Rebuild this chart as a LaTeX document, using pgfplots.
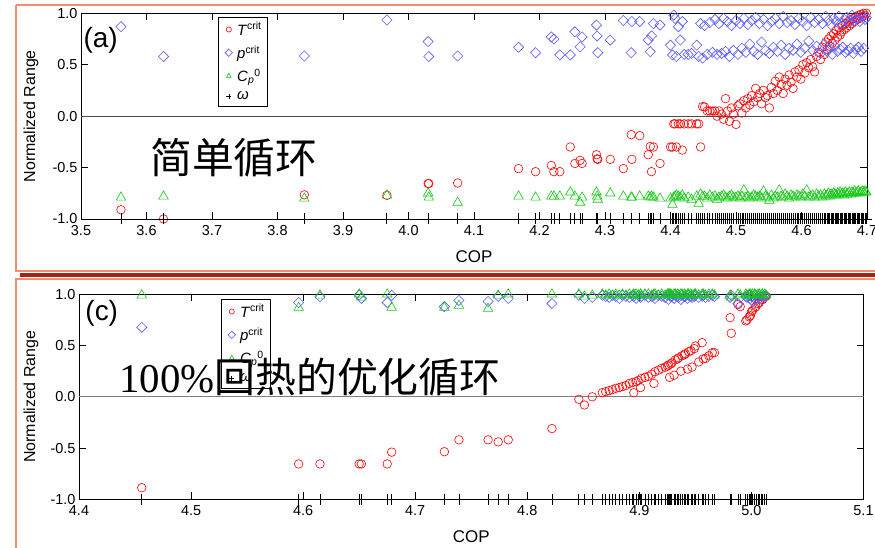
\documentclass[border=0pt]{standalone}
\usepackage{fontspec}
\setmainfont{Liberation Sans}
\newfontfamily\cjk{Noto Sans CJK SC}
\newfontfamily\tnr{Liberation Serif}
\usepackage{pgfplots}
\pgfplotsset{compat=1.18}
\usepackage{pgfplotstable}
\definecolor{tred}{RGB}{255,0,0}
\definecolor{pblue}{RGB}{90,90,255}
\definecolor{cgreen}{RGB}{20,200,20}
\definecolor{salmon}{RGB}{243,140,115}
\definecolor{darkred}{RGB}{160,38,18}

\pgfplotstableread{
x T p C w
3.561 -0.91 0.87 -0.79 -1
3.626 -1.00 0.58 -0.78 -1
3.841 -0.765 0.585 -0.80 -1
3.967 -0.77 0.935 -0.77 -1
4.030 -0.655 0.725 -0.75 -1
4.031 -0.655 0.58 -0.79 -1
4.075 -0.65 0.585 -0.84 -1
4.168 -0.51 0.67 -0.78 -1
4.194 -0.54 0.617 -0.79 -1
4.218 -0.48 0.77 -0.78 -1
4.222 -0.54 0.75 -0.78 -1
4.231 -0.54 0.595 -0.78 -1
4.247 -0.30 0.595 -0.74 -1
4.254 -0.46 0.82 -0.78 -1
4.262 -0.43 0.675 -0.84 -1
4.265 -0.46 0.77 -0.79 -1
4.287 -0.375 0.886 -0.74 -1
4.288 -0.415 0.78 -0.78 -1
4.289 -0.42 0.617 -0.81 -1
4.308 -0.42 0.74 -0.75 -1
4.328 -0.51 0.93 -0.78 -1
4.340 -0.18 0.617 -0.79 -1
4.341 -0.42 0.92 -0.79 -1
4.353 -0.19 0.92 -0.78 -1
4.366 -0.375 0.74 -0.78 -1
4.369 -0.295 0.627 -0.79 -1
4.371 -0.54 0.78 -0.78 -1
4.374 -0.30 0.90 -0.79 -1
4.384 -0.46 0.886 -0.80 -1
4.400 -0.30 0.69 -0.80 -1
4.403 -0.30 0.595 -0.86 -1
4.405 -0.075 0.983 -0.79 -1
4.407 -0.075 0.95 -0.78 -1
4.409 -0.30 0.58 -0.77 -1
4.412 -0.075 0.87 -0.78 -1
4.415 -0.075 0.74 -0.79 -1
4.418 -0.33 0.92 -0.77 -1
4.421 -0.075 0.60 -0.80 -1
4.427 -0.075 0.60 -0.79 -1
4.432 -0.075 0.61 -0.81 -1
4.440 -0.075 0.69 -0.78 -1
4.443 -0.075 0.58 -0.85 -1
4.446 -0.30 0.90 -0.76 -1
4.449 0.093 0.565 -0.78 -1
4.452 0.09 0.88 -0.78 -1
4.456 0.05 0.60 -0.80 -1
4.460 0.05 0.91 -0.77 -1
4.464 0.05 0.62 -0.79 -1
4.468 0.05 0.94 -0.78 -1
4.471 0.00 0.60 -0.81 -1
4.474 0.05 0.90 -0.79 -1
4.478 0.02 0.61 -0.78 -1
4.481 -0.03 0.95 -0.77 -1
4.484 0.17 0.63 -0.79 -1
4.487 0.05 0.92 -0.80 -1
4.490 -0.05 0.58 -0.78 -1
4.493 0.08 0.88 -0.77 -1
4.496 0.02 0.64 -0.79 -1
4.500 -0.08 0.93 -0.79 -1
4.503 0.10 0.60 -0.78 -1
4.506 0.12 0.90 -0.80 -1
4.509 0.03 0.66 -0.78 -1
4.512 0.15 0.95 -0.72 -1
4.515 0.08 0.62 -0.79 -1
4.518 0.17 0.89 -0.78 -1
4.521 0.11 0.70 -0.80 -1
4.524 0.20 0.93 -0.79 -1
4.527 0.14 0.63 -0.77 -1
4.530 0.27 0.96 -0.78 -1
4.533 0.18 0.60 -0.79 -1
4.536 0.22 0.90 -0.78 -1
4.539 0.12 0.72 -0.80 -1
4.542 0.25 0.94 -0.73 -1
4.545 0.18 0.64 -0.78 -1
4.548 0.20 0.88 -0.79 -1
4.551 0.08 0.61 -0.82 -1
4.554 0.28 0.92 -0.77 -1
4.557 0.22 0.67 -0.80 -1
4.560 0.34 0.95 -0.78 -1
4.563 0.25 0.63 -0.79 -1
4.566 0.38 0.90 -0.72 -1
4.569 0.31 0.69 -0.78 -1
4.572 0.22 0.97 -0.79 -1
4.575 0.36 0.60 -0.76 -1
4.578 0.30 0.91 -0.78 -1
4.581 0.40 0.66 -0.80 -1
4.584 0.33 0.93 -0.77 -1
4.587 0.27 0.64 -0.78 -1
4.590 0.43 0.89 -0.79 -1
4.593 0.38 0.70 -0.77 -1
4.596 0.45 0.95 -0.78 -1
4.599 0.36 0.62 -0.79 -1
4.602 0.50 0.92 -0.76 -1
4.605 0.42 0.66 -0.78 -1
4.608 0.52 0.88 -0.72 -1
4.611 0.47 0.73 -0.79 -1
4.614 0.55 0.96 -0.78 -1
4.617 0.48 0.64 -0.77 -1
4.620 0.43 0.91 -0.79 -1
4.623 0.58 0.68 -0.76 -1
4.626 0.62 0.94 -0.78 -1
4.629 0.55 0.61 -0.77 -1
4.632 0.67 0.90 -0.79 -1
4.635 0.60 0.70 -0.76 -1
4.637 0.72 0.97 -0.78 -1
4.639 0.65 0.63 -0.77 -1
4.641 0.75 0.93 -0.75 -1
4.643 0.68 0.66 -0.78 -1
4.645 0.78 0.89 -0.76 -1
4.647 0.71 0.60 -0.77 -1
4.649 0.80 0.95 -0.75 -1
4.651 0.74 0.68 -0.76 -1
4.653 0.83 0.92 -0.77 -1
4.655 0.77 0.63 -0.75 -1
4.657 0.86 0.97 -0.76 -1
4.659 0.79 0.65 -0.74 -1
4.661 0.82 0.90 -0.76 -1
4.663 0.88 0.67 -0.75 -1
4.665 0.84 0.94 -0.77 -1
4.667 0.90 0.62 -0.74 -1
4.669 0.86 0.96 -0.76 -1
4.671 0.92 0.64 -0.75 -1
4.673 0.88 0.91 -0.74 -1
4.675 0.94 0.66 -0.76 -1
4.677 0.90 0.98 -0.74 -1
4.679 0.95 0.61 -0.75 -1
4.681 0.92 0.93 -0.73 -1
4.683 0.97 0.65 -0.75 -1
4.685 0.94 0.95 -0.74 -1
4.687 0.98 0.67 -0.73 -1
4.689 0.95 0.92 -0.75 -1
4.691 0.99 0.63 -0.74 -1
4.693 0.97 0.97 -0.73 -1
4.695 1.00 0.66 -0.74 -1
4.697 0.98 0.94 -0.73 -1
4.699 1.00 0.96 -0.74 -1
}\dataA

\pgfplotstableread{
x T p C w
4.456 -0.887 0.678 0.99 -1
4.596 -0.655 0.92 0.87 -1
4.615 -0.655 0.977 0.99 -1
4.650 -0.655 0.993 1.00 -1
4.652 -0.655 0.96 0.97 -1
4.675 -0.655 0.92 1.00 -1
4.679 -0.54 0.99 0.87 -1
4.726 -0.536 0.88 0.87 -1
4.739 -0.42 0.94 0.89 -1
4.765 -0.42 0.93 0.86 -1
4.774 -0.44 0.98 0.99 -1
4.783 -0.42 0.96 1.00 -1
4.822 -0.31 0.91 1.00 -1
4.846 -0.024 0.99 1.00 -1
4.851 -0.08 0.96 0.98 -1
4.858 0.00 0.97 0.99 -1
4.867 0.04 0.99 1.00 -1
4.870 0.05 0.98 0.99 -1
4.873 0.06 0.97 1.00 -1
4.876 0.07 0.99 0.99 -1
4.879 0.083 0.98 1.00 -1
4.882 0.09 0.96 0.99 -1
4.885 0.10 0.99 1.00 -1
4.888 0.11 0.98 0.99 -1
4.891 0.13 0.97 1.00 -1
4.894 0.14 0.99 0.99 -1
4.895 0.04 0.98 1.00 -1
4.897 0.147 0.96 1.00 -1
4.899 0.16 0.99 0.99 -1
4.901 0.09 0.97 1.00 -1
4.902 0.18 0.98 0.99 -1
4.905 0.19 0.99 1.00 -1
4.908 0.20 0.97 1.00 -1
4.911 0.22 0.98 0.99 -1
4.913 0.13 0.99 1.00 -1
4.914 0.245 0.96 1.00 -1
4.917 0.26 0.99 0.99 -1
4.920 0.278 0.98 1.00 -1
4.923 0.29 0.97 0.99 -1
4.925 0.30 0.99 1.00 -1
4.926 0.31 0.95 1.00 -1
4.927 0.19 0.99 1.00 -1
4.928 0.32 0.98 1.00 -1
4.929 0.33 0.98 0.99 -1
4.931 0.21 0.96 1.00 -1
4.932 0.36 0.99 1.00 -1
4.934 0.37 0.98 1.00 -1
4.935 0.38 0.97 0.99 -1
4.937 0.25 0.95 1.00 -1
4.938 0.40 0.99 1.00 -1
4.940 0.41 0.98 1.00 -1
4.941 0.42 0.98 0.99 -1
4.943 0.27 0.96 1.00 -1
4.944 0.44 0.99 1.00 -1
4.946 0.45 0.98 1.00 -1
4.947 0.29 0.97 0.99 -1
4.949 0.47 0.98 1.00 -1
4.950 0.496 0.99 1.00 -1
4.953 0.34 0.97 0.99 -1
4.956 0.528 0.98 1.00 -1
4.957 0.37 0.99 1.00 -1
4.959 0.375 0.97 0.99 -1
4.962 0.40 0.98 1.00 -1
4.965 0.43 0.99 1.00 -1
4.967 0.43 0.98 0.99 -1
4.981 0.772 0.97 0.99 -1
4.982 0.62 0.99 0.97 -1
4.988 0.90 0.91 1.00 -1
4.990 0.88 0.97 0.99 -1
4.995 0.74 0.98 1.00 -1
4.996 0.75 0.97 0.99 -1
4.998 0.78 0.99 1.00 -1
4.999 0.79 0.96 1.00 -1
5.000 0.83 0.98 0.99 -1
5.001 0.84 0.93 1.00 -1
5.003 0.87 0.99 1.00 -1
5.004 0.88 0.95 0.99 -1
5.006 0.91 0.98 1.00 -1
5.007 0.92 0.96 1.00 -1
5.009 0.945 0.99 0.99 -1
5.010 0.95 0.97 1.00 -1
5.012 0.977 0.98 1.00 -1
5.013 0.98 0.99 0.99 -1
}\dataC

\pgfplotsset{
  panel/.style={
    scale only axis, anchor=south west,
    ymin=-1, ymax=1, ytick={-1,-0.5,0,0.5,1},
    tick align=inside, major tick length=7bp,
    axis line style={line width=0.8bp},
    every tick/.style={black, line width=0.8bp},
    /pgf/number format/fixed, /pgf/number format/fixed zerofill,
    /pgf/number format/precision=1, /pgf/number format/assume math mode=true,
    tick label style={font=\fontsize{14.5}{16}\selectfont},
    xticklabel style={yshift=-3bp},
    ylabel={Normalized Range},
    ylabel style={font=\fontsize{16}{18}\selectfont, anchor=center},
    xlabel={COP},
    xlabel style={font=\fontsize{17}{20}\selectfont, anchor=center},
    clip mode=individual,
    legend style={draw=black, line width=0.8bp, fill=white,
      font=\fontsize{15}{17}\selectfont, anchor=north west,
      inner xsep=4bp, inner ysep=3bp, row sep=5bp, cells={anchor=west}},
    legend image code/.code={\path (0bp,0bp) (12bp,0bp);
      \draw[##1, mark size=2.6bp, line width=0.6bp] plot coordinates {(6bp,0bp)};},
  },
  Ts/.style={only marks, mark=o, draw=tred, mark size=4.3bp, line width=0.6bp},
  ps/.style={only marks, mark=square, mark options={rotate=45}, draw=pblue, mark size=3.6bp, line width=0.6bp},
  Cs/.style={only marks, mark=triangle, draw=cgreen, mark size=5.5bp, line width=0.6bp},
  ws/.style={only marks, mark=+, draw=black, mark size=5.5bp, line width=0.8bp},
}

\begin{document}
\begin{tikzpicture}
\useasboundingbox (0,0) rectangle (875bp,548bp);
\clip (0,0) rectangle (875bp,548bp);
% slide frames
\draw[salmon, line width=2.2bp] (16bp,543bp) -- (900bp,543bp);
\draw[salmon, line width=2.2bp] (16bp,543bp) -- (16bp,277bp) -- (900bp,277bp);
\draw[darkred, line width=3.2bp] (20bp,273bp) -- (900bp,273bp);
\draw[salmon, line width=2.2bp] (900bp,269bp) -- (16bp,269bp) -- (16bp,-10bp);

\begin{axis}[panel, at={(81bp,329bp)}, width=786bp, height=205.7bp,
  xmin=3.5, xmax=4.7,
  xtick={3.5,3.6,3.7,3.8,3.9,4.0,4.1,4.2,4.3,4.4,4.5,4.6,4.7},
  ylabel style={at={(axis description cs:-0.0636,0.5)}},
  xlabel style={at={(axis description cs:0.5,-0.185)}},
  legend style={at={(axis description cs:0.1743,0.982)}}]
\addplot[forget plot, gray!60!black, line width=0.8bp] coordinates {(3.5,0) (4.7,0)};
\addplot[Ts] table[x=x,y=T]{\dataA};
\addlegendentry{\textit{T}\textsuperscript{crit}}
\addplot[ps] table[x=x,y=p]{\dataA};
\addlegendentry{\textit{p}\textsuperscript{crit}}
\addplot[Cs] table[x=x,y=C]{\dataA};
\addlegendentry{\textit{C}\textsubscript{\textit{p}}\textsuperscript{0}}
\addplot[ws] table[x=x,y=w]{\dataA};
\addlegendentry{\textit{ω}}
\node[anchor=west, inner sep=0, font=\fontsize{28}{30}\selectfont] at (axis description cs:0.003,0.87) {(a)};
\end{axis}

\begin{axis}[panel, at={(79bp,48.7bp)}, width=784.5bp, height=205bp,
  xmin=4.4, xmax=5.1,
  xtick={4.4,4.5,4.6,4.7,4.8,4.9,5.0,5.1},
  ylabel style={at={(axis description cs:-0.0612,0.5)}},
  xlabel style={at={(axis description cs:0.5,-0.182)}},
  legend style={at={(axis description cs:0.181,0.977)}}]
\addplot[forget plot, gray, line width=1.3bp] coordinates {(4.4,0) (5.1,0)};
\addplot[Ts] table[x=x,y=T]{\dataC};
\addlegendentry{\textit{T}\textsuperscript{crit}}
\addplot[ps] table[x=x,y=p]{\dataC};
\addlegendentry{\textit{p}\textsuperscript{crit}}
\addplot[Cs] table[x=x,y=C]{\dataC};
\addlegendentry{\textit{C}\textsubscript{\textit{p}}\textsuperscript{0}}
\addplot[ws] table[x=x,y=w]{\dataC};
\addlegendentry{\textit{ω}}
\node[anchor=west, inner sep=0, font=\fontsize{28}{30}\selectfont] at (axis description cs:0.008,0.909) {(c)};
\end{axis}

\node[anchor=base west, inner sep=0, font=\fontsize{42}{46}\selectfont] at (150bp,374bp) {\cjk 简单循环};
\node[anchor=base west, inner sep=0, font=\fontsize{41}{45}\selectfont] at (119bp,155bp) {{\tnr 100\%}{\cjk 回热的优化循环}};
\end{tikzpicture}
\end{document}
